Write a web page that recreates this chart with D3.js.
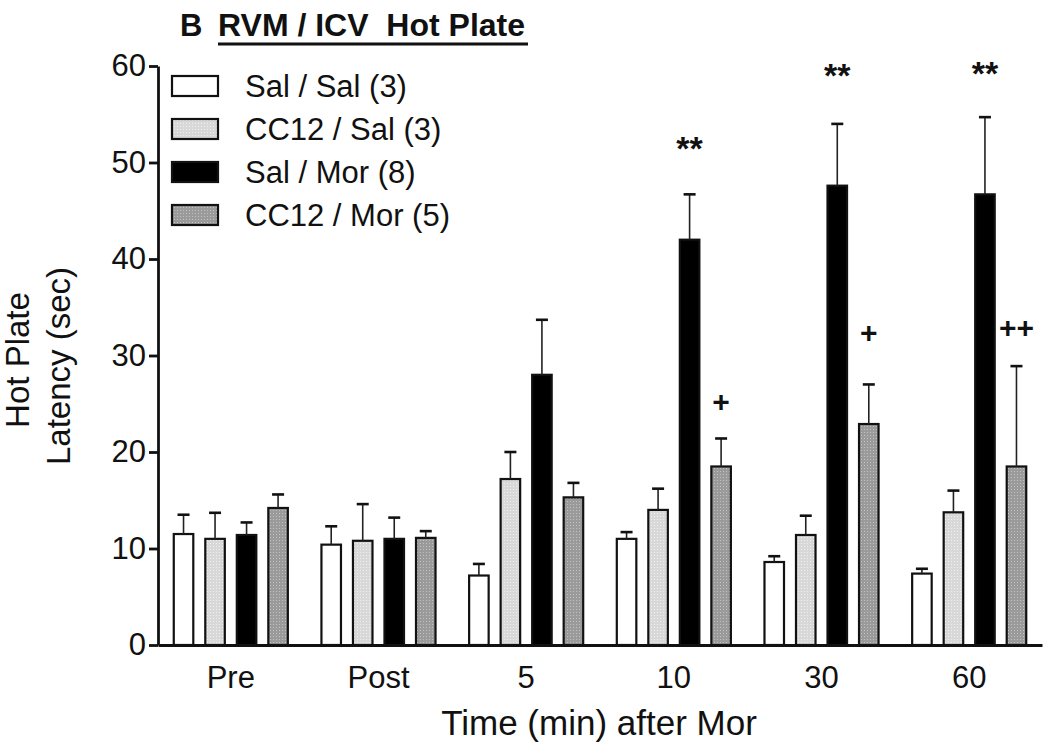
<!DOCTYPE html>
<html>
<head>
<meta charset="utf-8">
<script src="https://cdn.jsdelivr.net/npm/d3@7"></script>
<style>
  html, body { margin: 0; padding: 0; background: #fff; }
  svg { display: block; font-family: "Liberation Sans", Arial, Helvetica, sans-serif; }
</style>
</head>
<body>
<svg id="chart" width="1050" height="748"></svg>
<script>
// ---- data ----
const groups = ["Pre", "Post", "5", "10", "30", "60"];
const seriesNames = ["Sal / Sal (3)", "CC12 / Sal (3)", "Sal / Mor (8)", "CC12 / Mor (5)"];
const salSal  = [11.5, 10.4, 7.2, 11.0, 8.6, 7.4];
const salSalErr  = [2.0, 1.9, 1.2, 0.7, 0.6, 0.5];
const cc12Sal = [11.0, 10.8, 17.2, 14.0, 11.4, 13.75];
const cc12SalErr = [2.7, 3.8, 2.8, 2.2, 2.0, 2.25];
const salMor  = [11.4, 11.0, 28.0, 42.0, 47.6, 46.7];
const salMorErr  = [1.3, 2.2, 5.7, 4.7, 6.4, 8.0];
const cc12Mor = [14.2, 11.1, 15.3, 18.5, 22.9, 18.5];
const cc12MorErr = [1.4, 0.7, 1.5, 2.9, 4.1, 10.4];
const yTicks = [0, 10, 20, 30, 40, 50, 60];
// significance marks: group, series index, label, y (data units, text centre)
const annotations = [
  { group: "10", s: 2, label: "**", y: 52.0 },
  { group: "30", s: 2, label: "**", y: 59.5 },
  { group: "60", s: 2, label: "**", y: 59.7 },
  { group: "10", s: 3, label: "+",  y: 25.2 },
  { group: "30", s: 3, label: "+",  y: 32.4 },
  { group: "60", s: 3, label: "++", y: 32.9 }
];
const titleLetter = "B";
const titleText = "RVM / ICV  Hot Plate";
const xTitle = "Time (min) after Mor";
const yTitle1 = "Hot Plate";
const yTitle2 = "Latency (sec)";

const valuesBySeries = [salSal, cc12Sal, salMor, cc12Mor];
const errBySeries = [salSalErr, cc12SalErr, salMorErr, cc12MorErr];

// ---- layout ----
const svg = d3.select("#chart");
const X0 = 158, X1 = 1042, Y0 = 645, Y1 = 66;

const defs = svg.append("defs");
function mkPattern(id, base, dot) {
  const p = defs.append("pattern").attr("id", id).attr("patternUnits", "userSpaceOnUse")
    .attr("width", 3).attr("height", 3);
  p.append("rect").attr("width", 3).attr("height", 3).attr("fill", base);
  p.append("rect").attr("x", 0).attr("y", 0).attr("width", 1).attr("height", 1).attr("fill", dot);
}
mkPattern("pLight", "#d8d8d8", "#f0f0f0");
mkPattern("pDark", "#9a9a9a", "#c2c2c2");
const fills = ["#ffffff", "url(#pLight)", "#000000", "url(#pDark)"];

const x = d3.scaleBand().domain(groups).range([X0, X1]).paddingInner(0.214).paddingOuter(0.1);
const xs = d3.scaleBand().domain(d3.range(4)).range([0, x.bandwidth()]).paddingInner(0.317).paddingOuter(0);
const y = d3.scaleLinear().domain([0, 60]).range([Y0, Y1]);

// bars
const data = [];
groups.forEach((g, gi) => {
  valuesBySeries.forEach((vals, si) => {
    data.push({ g, si, v: vals[gi], e: errBySeries[si][gi] });
  });
});

const bw = xs.bandwidth();
svg.append("g").selectAll("rect.bar").data(data).join("rect")
  .attr("class", "bar")
  .attr("x", d => x(d.g) + xs(d.si) + 1)
  .attr("y", d => y(d.v))
  .attr("width", bw - 2)
  .attr("height", d => Y0 - y(d.v))
  .attr("fill", d => fills[d.si])
  .attr("stroke", "#111")
  .attr("stroke-width", 2.2);

const errG = svg.append("g");
errG.selectAll("line.ev").data(data).join("line")
  .attr("x1", d => x(d.g) + xs(d.si) + bw / 2)
  .attr("x2", d => x(d.g) + xs(d.si) + bw / 2)
  .attr("y1", d => y(d.v))
  .attr("y2", d => y(d.v + d.e))
  .attr("stroke", "#222").attr("stroke-width", 1.6);
errG.selectAll("line.cap").data(data).join("line")
  .attr("x1", d => x(d.g) + xs(d.si) + bw / 2 - 6)
  .attr("x2", d => x(d.g) + xs(d.si) + bw / 2 + 6)
  .attr("y1", d => y(d.v + d.e))
  .attr("y2", d => y(d.v + d.e))
  .attr("stroke", "#111").attr("stroke-width", 2.6);

// annotations
svg.append("g").selectAll("text").data(annotations).join("text")
  .attr("x", d => x(d.group) + xs(d.s) + bw / 2)
  .attr("y", d => y(d.y))
  .attr("dy", d => d.label.startsWith("*") ? "0.48em" : "0.35em")
  .attr("text-anchor", "middle")
  .attr("font-size", d => d.label.startsWith("*") ? 34 : 30)
  .attr("font-weight", "bold")
  .attr("fill", "#111")
  .text(d => d.label);

// y axis
const yAxis = svg.append("g").attr("transform", `translate(${X0},0)`)
  .call(d3.axisLeft(y).tickValues(yTicks).tickSize(9).tickSizeOuter(0).tickPadding(3).tickFormat(d3.format("d")));
yAxis.select(".domain").attr("stroke", "#111").attr("stroke-width", 2.8);
yAxis.selectAll(".tick line").attr("stroke", "#111").attr("stroke-width", 2.8);
yAxis.selectAll(".tick text").attr("font-size", 31).attr("fill", "#111")
  .attr("font-family", "'Liberation Sans', Arial, sans-serif");

// x axis
const xAxis = svg.append("g").attr("transform", `translate(0,${Y0})`)
  .call(d3.axisBottom(x).tickSize(0).tickSizeOuter(0).tickPadding(21));
xAxis.select(".domain").attr("stroke", "#111").attr("stroke-width", 3);
xAxis.selectAll(".tick text").attr("font-size", 31).attr("fill", "#111")
  .attr("font-family", "'Liberation Sans', Arial, sans-serif");

// axis titles
svg.append("text").attr("x", 599).attr("y", 735)
  .attr("text-anchor", "middle").attr("font-size", 35).attr("fill", "#111")
  .text(xTitle);
svg.append("text").attr("transform", "translate(29,360) rotate(-90)")
  .attr("text-anchor", "middle").attr("font-size", 33).attr("fill", "#111")
  .text(yTitle1);
svg.append("text").attr("transform", "translate(70,366) rotate(-90)")
  .attr("text-anchor", "middle").attr("font-size", 33).attr("fill", "#111")
  .text(yTitle2);

// title
svg.append("text").attr("x", 180).attr("y", 36)
  .attr("font-size", 31).attr("font-weight", "bold").attr("fill", "#111").text(titleLetter);
svg.append("text").attr("x", 218).attr("y", 36)
  .attr("font-size", 32).attr("font-weight", "bold").attr("fill", "#111")
  .attr("xml:space", "preserve").style("white-space", "pre").text(titleText);
svg.append("line").attr("x1", 218).attr("x2", 528).attr("y1", 44).attr("y2", 44)
  .attr("stroke", "#111").attr("stroke-width", 3);

// legend
const leg = svg.append("g");
seriesNames.forEach((name, i) => {
  const cy = 86 + i * 43;
  leg.append("rect").attr("x", 172).attr("y", cy - 10).attr("width", 46).attr("height", 20)
    .attr("fill", fills[i]).attr("stroke", "#111").attr("stroke-width", 2.2);
  leg.append("text").attr("x", 245).attr("y", cy).attr("dy", "0.36em")
    .attr("font-size", 31).attr("fill", "#111").text(name);
});
</script>
</body>
</html>
